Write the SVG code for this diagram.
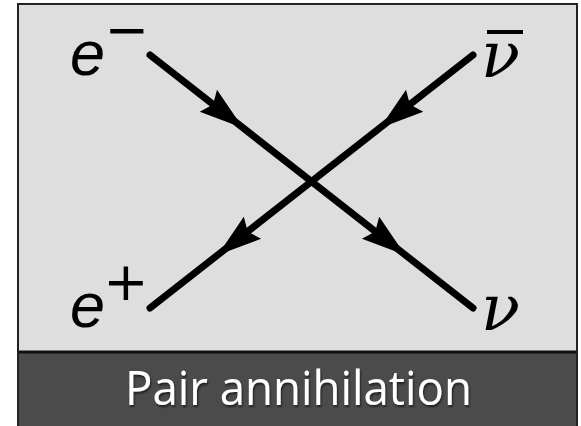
<svg xmlns="http://www.w3.org/2000/svg" width="581" height="426" viewBox="0 0 581 426">
<defs>
<style>
.line{stroke:#000;stroke-width:7;stroke-linecap:round;fill:none}
.head{fill:#000}
.sym{font-family:"Liberation Sans","DejaVu Sans",sans-serif;font-style:italic;font-size:63px;fill:#000}
.sign{font-family:"DejaVu Sans",sans-serif;fill:#000}
.nu{font-family:"DejaVu Serif",serif;font-style:italic;font-size:64px;fill:#000}
.cap{font-family:"Open Sans","Liberation Sans",sans-serif;font-size:47px;fill:#fff}
</style>
<polygon id="ah" points="0,0 -44,-14 -38,0 -44,14"/>
<filter id="sh" x="-10%" y="-20%" width="120%" height="150%">
<feDropShadow dx="1" dy="2" stdDeviation="1.2" flood-color="#000" flood-opacity="0.6"/>
</filter>
</defs>
<rect x="0" y="0" width="581" height="426" fill="#fff"/>
<g id="frame">
<rect x="18" y="4" width="559" height="348" fill="#dedede"/>
<rect x="18" y="352" width="559" height="80" fill="#4b4b4b"/>
<line x1="18" y1="352" x2="577" y2="352" stroke="#111" stroke-width="3"/>
<rect x="18" y="4" width="559" height="430" fill="none" stroke="#222" stroke-width="2"/>
</g>
<g id="connectors">
<line class="line" x1="150" y1="55" x2="473" y2="308"/>
<line class="line" x1="473" y1="55" x2="150" y2="308"/>
<use href="#ah" class="head" transform="translate(243,127.9) rotate(38.07)"/>
<use href="#ah" class="head" transform="translate(405.2,254.9) rotate(38.07)"/>
<use href="#ah" class="head" transform="translate(380,127.9) rotate(141.93)"/>
<use href="#ah" class="head" transform="translate(217.8,254.9) rotate(141.93)"/>
</g>
<g id="electron">
<text class="sym" x="70" y="75">e</text>
<text class="sign" font-size="53" x="104.4" y="47.5">−</text>
</g>
<g id="positron">
<text class="sym" x="70" y="327">e</text>
<text class="sign" font-size="54" x="103.3" y="300.4">+</text>
</g>
<g id="antineutrino">
<text class="nu" x="481" y="77">ν</text>
<rect x="487" y="30" width="36" height="4" fill="#000"/>
</g>
<g id="neutrino">
<text class="nu" x="481" y="330">ν</text>
</g>
<g id="caption">
<text class="cap" x="125" y="405" textLength="347" lengthAdjust="spacingAndGlyphs" filter="url(#sh)">Pair annihilation</text>
</g>
</svg>
